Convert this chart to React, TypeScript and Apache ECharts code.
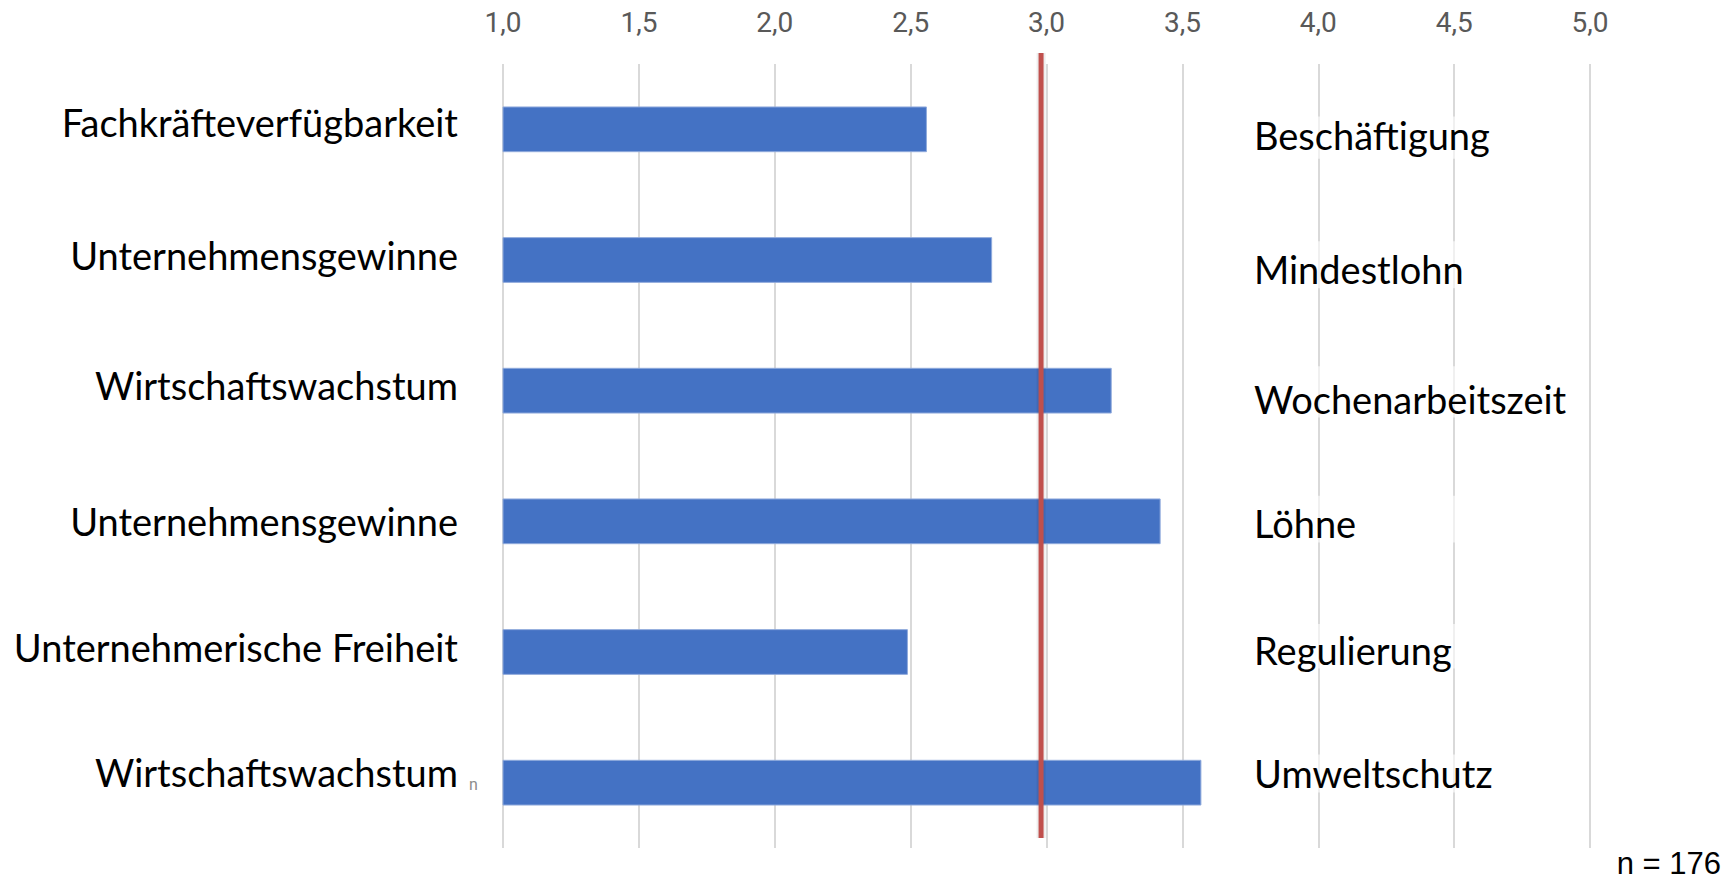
import React, { useEffect, useRef } from "react";
import * as echarts from "echarts";

const leftCategories = [
  "Fachkräfteverfügbarkeit",
  "Unternehmensgewinne",
  "Wirtschaftswachstum",
  "Unternehmensgewinne",
  "Unternehmerische Freiheit",
  "Wirtschaftswachstum",
];
const rightCategories = [
  "Beschäftigung",
  "Mindestlohn",
  "Wochenarbeitszeit",
  "Löhne",
  "Regulierung",
  "Umweltschutz",
];
const values = [2.56, 2.8, 3.24, 3.42, 2.49, 3.57];
const referenceValue = 2.98;
const axisMin = 1;
const axisMax = 5;
const axisStep = 0.5;
const sampleNote = "n = 176";
const strayMark = "n";

// layout: vertical nudges of the text labels (px, negative = up)
const leftLabelShift = [-7.7, -5.5, -5.5, 0, -5.5, -11];
const rightLabelShift = [-2.2, 4.4, 6.6, 4.4, 3.3, 0];

const padFor = (s: number) => (s < 0 ? [0, 0, -2 * s, 0] : [2 * s, 0, 0, 0]);
const labelFont = "Lato, 'Open Sans', sans-serif";

const leftRich: Record<string, any> = {};
leftLabelShift.forEach((s, i) => {
  leftRich["l" + i] = {
    fontFamily: labelFont,
    fontSize: 38,
    color: "#000000",
    padding: padFor(s),
  };
});
const rightRich: Record<string, any> = {};
rightLabelShift.forEach((s, i) => {
  rightRich["r" + i] = {
    fontFamily: labelFont,
    fontSize: 38,
    color: "#000000",
    padding: padFor(s),
    width: 250,
    backgroundColor: "rgba(255,255,255,0.6)",
  };
});

export default function App() {
  const ref = useRef<HTMLDivElement>(null);

  useEffect(() => {
    if (!ref.current) return;
    const chart = echarts.init(ref.current, undefined, { renderer: "svg" });
    chart.setOption({
      animation: false,
      backgroundColor: "#ffffff",
      grid: [
        { left: 503, right: 145, top: 64, bottom: 34, outerBoundsMode: "none" },
        { left: 1254, right: 60, top: 74, bottom: 45, outerBoundsMode: "none" },
        { left: 503, right: 145, top: 53, bottom: 44, outerBoundsMode: "none" },
      ],
      xAxis: [
        {
          gridIndex: 0,
          type: "value",
          position: "top",
          min: axisMin,
          max: axisMax,
          interval: axisStep,
          axisLine: { show: false },
          axisTick: { show: false },
          splitLine: { lineStyle: { color: "#D9D9D9", width: 2 } },
          axisLabel: {
            margin: 28,
            fontFamily: "Roboto, sans-serif",
            fontSize: 28,
            color: "#595959",
            formatter: (v: number) => v.toFixed(1).replace(".", ","),
          },
        },
        { gridIndex: 1, type: "value", min: 0, max: 1, show: false },
        { gridIndex: 2, type: "value", min: axisMin, max: axisMax, show: false },
      ],
      yAxis: [
        {
          gridIndex: 0,
          type: "category",
          inverse: true,
          data: leftCategories,
          axisLine: { show: false },
          axisTick: { show: false },
          axisLabel: {
            margin: 45,
            fontFamily: labelFont,
            fontSize: 38,
            color: "#000000",
            formatter: (v: string, i: number) => `{l${i}|${v}}`,
            rich: leftRich,
          },
        },
        {
          gridIndex: 1,
          type: "category",
          inverse: true,
          position: "left",
          data: rightCategories,
          z: 5,
          axisLine: { show: false },
          axisTick: { show: false },
          splitLine: { show: false },
          axisLabel: {
            inside: true,
            margin: 0,
            align: "left",
            fontFamily: labelFont,
            fontSize: 38,
            color: "#000000",
            formatter: (v: string, i: number) => `{r${i}|${v}}`,
            rich: rightRich,
          },
        },
        { gridIndex: 2, type: "value", min: 0, max: 1, show: false },
      ],
      series: [
        {
          type: "bar",
          xAxisIndex: 0,
          yAxisIndex: 0,
          data: values,
          barWidth: "35%",
          itemStyle: { color: "#4472C4", borderColor: "#8FAADC", borderWidth: 1 },
          silent: true,
        },
        {
          type: "line",
          xAxisIndex: 2,
          yAxisIndex: 2,
          data: [
            [referenceValue, 0],
            [referenceValue, 1],
          ],
          symbol: "none",
          z: 5,
          lineStyle: { color: "rgba(0,0,0,0.07)", width: 9 },
          silent: true,
        },
        {
          type: "line",
          xAxisIndex: 2,
          yAxisIndex: 2,
          data: [
            [referenceValue, 0],
            [referenceValue, 1],
          ],
          symbol: "none",
          z: 6,
          lineStyle: { color: "#C0504D", width: 5 },
          silent: true,
        },
      ],
      graphic: [
        {
          type: "text",
          right: 14,
          top: 848,
          style: {
            text: sampleNote,
            fontFamily: "'Liberation Sans', Arial, sans-serif",
            fontSize: 31,
            fill: "#000000",
          },
        },
        {
          type: "text",
          left: 469,
          top: 776,
          style: {
            text: strayMark,
            fontFamily: "Roboto, sans-serif",
            fontSize: 16,
            fill: "#8c8c8c",
          },
        },
      ],
    });
    return () => chart.dispose();
  }, []);

  return (
    <div
      ref={ref}
      style={{ position: "fixed", left: 0, top: 0, width: 1735, height: 882 }}
    />
  );
}
